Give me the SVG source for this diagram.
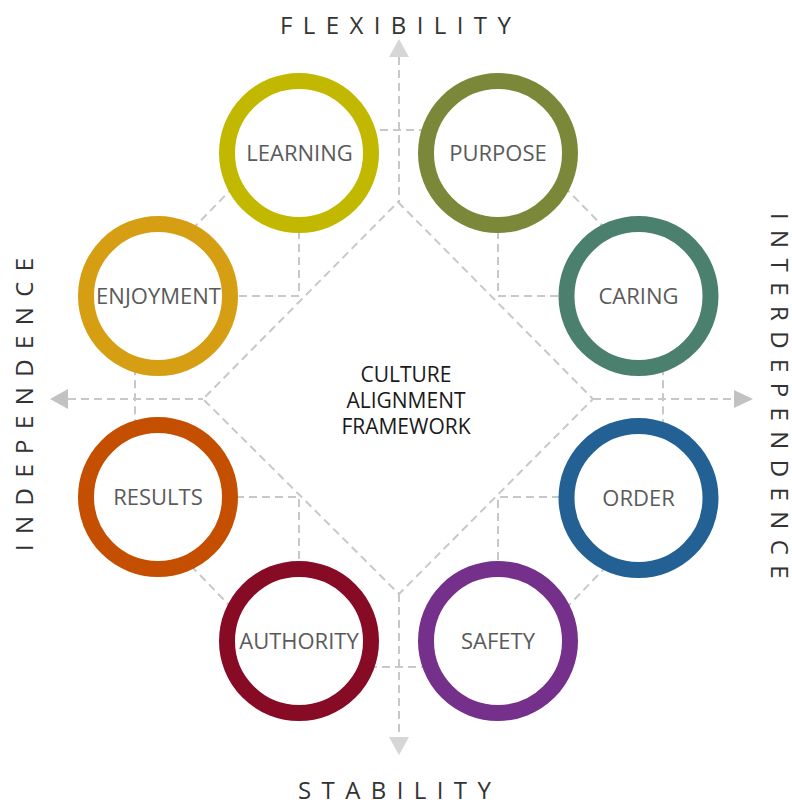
<svg xmlns="http://www.w3.org/2000/svg" width="792" height="800" viewBox="0 0 792 800">
  <style>
    .dash { fill: none; stroke: #c8c8c8; stroke-width: 2; stroke-dasharray: 8 5; }
    .ring { fill: #ffffff; stroke-width: 16; }
    .lbl { font-family: "Open Sans", "Liberation Sans", sans-serif; font-size: 22px; fill: #5a5a5a; text-anchor: middle; }
    .center { font-family: "Open Sans", "Liberation Sans", sans-serif; font-size: 21px; fill: #1a1a1a; text-anchor: middle; }
    .axis { font-family: "Open Sans", "Liberation Sans", sans-serif; font-size: 24px; font-weight: 400; fill: #333333; letter-spacing: 10.4px; }
    .arrowV { fill: #d6d6d6; }
    .arrowH { fill: #c2c2c2; }
  </style>
  <rect width="792" height="800" fill="#ffffff"/>

  <g id="connectors">
    <polygon class="dash" points="289,130 509,130 663,288 663,508 509,667 289,667 135,508 135,288"/>
    <polygon class="dash" points="398,202 593,399 399,594 203,399"/>
    <line class="dash" x1="399" y1="57" x2="399" y2="202"/>
    <line class="dash" x1="399" y1="594" x2="399" y2="737"/>
    <line class="dash" x1="68" y1="399" x2="203" y2="399"/>
    <line class="dash" x1="593" y1="399" x2="734" y2="399"/>
    <polyline class="dash" points="299,153 299,296 158,296"/>
    <polyline class="dash" points="498,153 498,296 638,296"/>
    <polyline class="dash" points="158,497 299,497 299,641"/>
    <polyline class="dash" points="638,497 498,497 498,641"/>
    <polygon class="arrowV" points="399,39 389,57 409,57"/>
    <polygon class="arrowV" points="399,755 389,737 409,737"/>
    <polygon class="arrowH" points="50,399 68,389 68,409"/>
    <polygon class="arrowH" points="753,399 734,390 734,408"/>
  </g>

  <g id="learning">
    <circle class="ring" cx="299" cy="153" r="72" stroke="#c3b800"/>
    <text class="lbl" x="299.5" y="161">LEARNING</text>
  </g>
  <g id="purpose">
    <circle class="ring" cx="498" cy="153" r="72" stroke="#7b883a"/>
    <text class="lbl" x="498" y="161">PURPOSE</text>
  </g>
  <g id="caring">
    <circle class="ring" cx="638.5" cy="296" r="72" stroke="#4c806e"/>
    <text class="lbl" x="638.5" y="304">CARING</text>
  </g>
  <g id="order">
    <circle class="ring" cx="638.5" cy="498" r="72" stroke="#236094"/>
    <text class="lbl" x="638.5" y="506">ORDER</text>
  </g>
  <g id="safety">
    <circle class="ring" cx="498" cy="641" r="72" stroke="#74308a"/>
    <text class="lbl" x="498" y="649">SAFETY</text>
  </g>
  <g id="authority">
    <circle class="ring" cx="299" cy="641" r="72" stroke="#870b25"/>
    <text class="lbl" x="299" y="649">AUTHORITY</text>
  </g>
  <g id="results">
    <circle class="ring" cx="158" cy="497" r="72" stroke="#c44f00"/>
    <text class="lbl" x="158" y="505">RESULTS</text>
  </g>
  <g id="enjoyment">
    <circle class="ring" cx="158" cy="296" r="72" stroke="#d69e12"/>
    <text class="lbl" x="158.5" y="304">ENJOYMENT</text>
  </g>

  <g id="center-title">
    <text class="center" x="406" y="382">CULTURE</text>
    <text class="center" x="406" y="408">ALIGNMENT</text>
    <text class="center" x="406" y="434">FRAMEWORK</text>
  </g>

  <g id="axis-labels">
    <text class="axis" x="280" y="34">FLEXIBILITY</text>
    <text class="axis" x="298" y="799">STABILITY</text>
    <text class="axis" transform="translate(33,551) rotate(-90)" x="0" y="0">INDEPENDENCE</text>
    <text class="axis" transform="translate(771,213) rotate(90)" x="0" y="0">INTERDEPENDENCE</text>
  </g>
</svg>
